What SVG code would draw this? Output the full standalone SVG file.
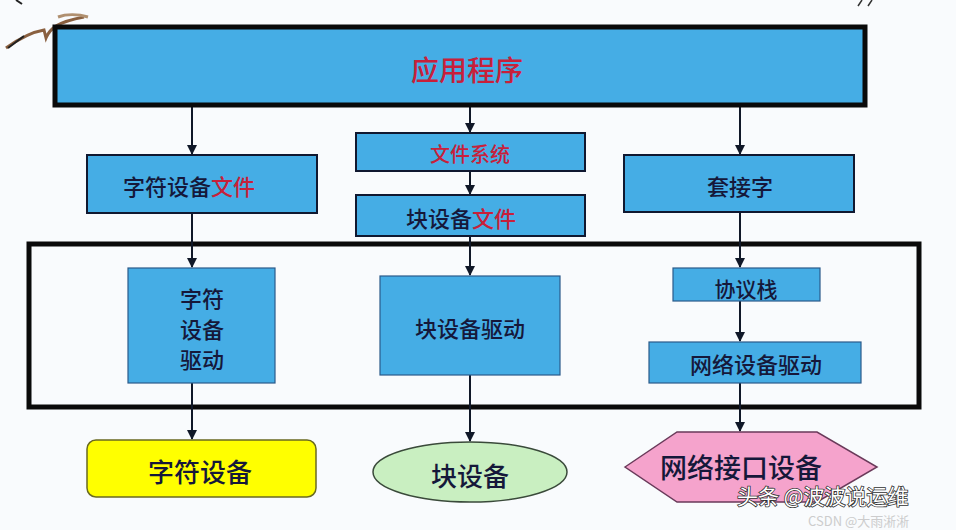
<svg xmlns="http://www.w3.org/2000/svg" width="956" height="530" viewBox="0 0 956 530">
<defs>
<style>
.t{font-family:"Noto Sans CJK SC","Noto Sans CJK TC",sans-serif;font-weight:500;fill:#15183a;text-anchor:middle;dominant-baseline:central}
.r{fill:#c8203a}
.blue{fill:#45ade5;stroke:#101830;stroke-width:2}
.bluethin{fill:#45ade5;stroke:#2a5a8a;stroke-width:1.2}
.ln{stroke:#101828;stroke-width:2;fill:none}
</style>
<marker id="ah" viewBox="0 0 10 10" refX="9" refY="5" markerWidth="5" markerHeight="5" orient="auto">
<path d="M0,0 L10,5 L0,10 Z" fill="#101828"/>
</marker>
</defs>
<rect width="956" height="530" fill="#f9fbfd"/>
<!-- decoration -->
<path d="M6,48 C20,38 32,32 44,30 L46,38 C50,28 58,22 84,17" stroke="#8a6040" stroke-width="3" fill="none"/>
<path d="M8,48 L24,36" stroke="#202020" stroke-width="2"/>
<path d="M58,17 C66,14 78,14 88,17" stroke="#b09070" stroke-width="3" fill="none"/>
<path d="M16,0 L22,4" stroke="#222" stroke-width="2"/>
<path d="M862,0 L858,6 M872,0 L868,6" stroke="#333" stroke-width="1.5"/>

<g id="frame">
<rect x="29" y="244" width="890" height="163" fill="none" stroke="#0a0a0a" stroke-width="5"/>
</g>

<g id="connectors">
<line class="ln" x1="192" y1="107" x2="192" y2="154" marker-end="url(#ah)"/>
<line class="ln" x1="470" y1="107" x2="470" y2="132" marker-end="url(#ah)"/>
<line class="ln" x1="740" y1="107" x2="740" y2="154" marker-end="url(#ah)"/>
<line class="ln" x1="470" y1="171" x2="470" y2="194" marker-end="url(#ah)"/>
<line class="ln" x1="192" y1="213" x2="192" y2="267" marker-end="url(#ah)"/>
<line class="ln" x1="470" y1="236" x2="470" y2="275" marker-end="url(#ah)"/>
<line class="ln" x1="740" y1="212" x2="740" y2="267" marker-end="url(#ah)"/>
<line class="ln" x1="740" y1="301" x2="740" y2="341" marker-end="url(#ah)"/>
<line class="ln" x1="192" y1="383" x2="192" y2="439" marker-end="url(#ah)"/>
<line class="ln" x1="470" y1="375" x2="470" y2="441" marker-end="url(#ah)"/>
<line class="ln" x1="740" y1="383" x2="740" y2="431" marker-end="url(#ah)"/>
</g>

<g id="app">
<rect x="55" y="27" width="810" height="78" fill="#45ade5" stroke="#0a0a0a" stroke-width="5"/>
<text class="t r" x="467" y="69" font-size="28">应用程序</text>
</g>

<g id="chrfile">
<rect class="blue" x="87" y="155" width="230" height="58"/>
<text class="t" x="189" y="185" font-size="22">字符设备<tspan class="r">文件</tspan></text>
</g>

<g id="fs">
<rect class="blue" x="356" y="133" width="229" height="38"/>
<text class="t r" x="470" y="153" font-size="20">文件系统</text>
</g>

<g id="blkfile">
<rect class="blue" x="356" y="195" width="229" height="41"/>
<text class="t" x="461" y="217" font-size="22">块设备<tspan class="r">文件</tspan></text>
</g>

<g id="socket">
<rect class="blue" x="624" y="155" width="230" height="57"/>
<text class="t" x="740" y="185" font-size="22">套接字</text>
</g>

<g id="chrdrv">
<rect class="bluethin" x="128" y="268" width="147" height="115"/>
<text class="t" x="202" y="297" font-size="22">字符</text>
<text class="t" x="202" y="328" font-size="22">设备</text>
<text class="t" x="202" y="358" font-size="22">驱动</text>
</g>

<g id="blkdrv">
<rect class="bluethin" x="380" y="276" width="180" height="99"/>
<text class="t" x="470" y="327" font-size="22">块设备驱动</text>
</g>

<g id="proto">
<rect class="bluethin" x="673" y="268" width="147" height="33"/>
<text class="t" x="746" y="288" font-size="21">协议栈</text>
</g>

<g id="netdrv">
<rect class="bluethin" x="649" y="342" width="212" height="41"/>
<text class="t" x="756" y="363" font-size="22">网络设备驱动</text>
</g>

<g id="chrdev">
<rect x="87" y="440" width="229" height="57" rx="9" fill="#ffff00" stroke="#6a6a20" stroke-width="1.5"/>
<text class="t" x="200" y="470" font-size="26">字符设备</text>
</g>

<g id="blkdev">
<ellipse cx="470" cy="472" rx="97" ry="30" fill="#c9efc1" stroke="#3a4a3a" stroke-width="1.5"/>
<text class="t" x="470" y="474" font-size="26">块设备</text>
</g>

<g id="netdev">
<polygon points="625,467 677,432 817,432 877,467 817,502 677,502" fill="#f5a3cc" stroke="#6a3a5a" stroke-width="1.5"/>
<text class="t" x="741" y="466" font-size="27">网络接口设备</text>
</g>

<g id="watermark">
<text x="737" y="504" font-family="Noto Sans CJK SC,sans-serif" font-size="21" fill="#ffffff" stroke="#303030" stroke-width="1.6" paint-order="stroke">头条 @波波说运维</text>
<text x="808" y="526" font-family="Noto Sans CJK SC,sans-serif" font-size="13" fill="#c8c8c8" opacity="0.9">CSDN @大雨淅淅</text>
</g>
</svg>
